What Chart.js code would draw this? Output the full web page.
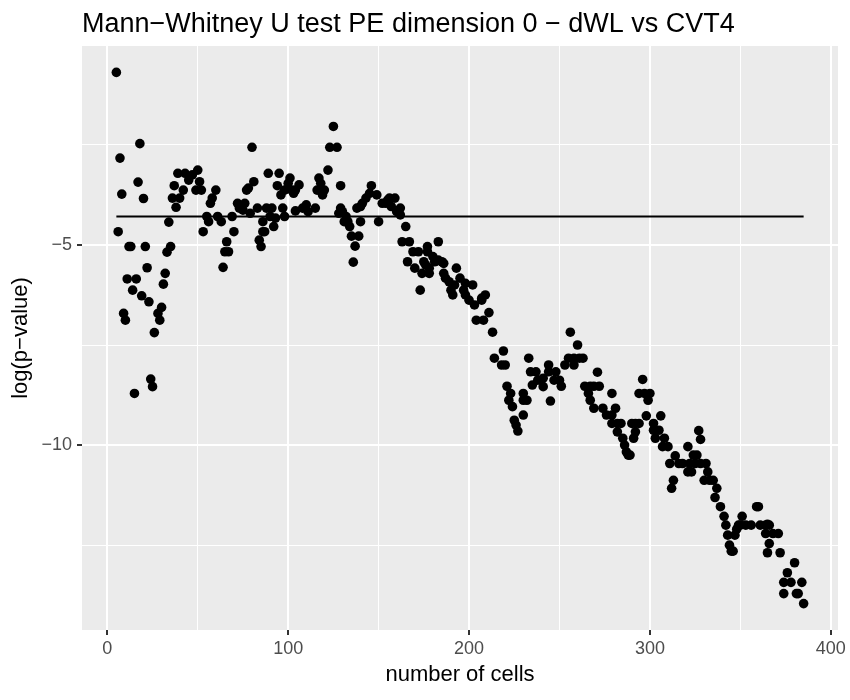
<!DOCTYPE html>
<html>
<head>
<meta charset="utf-8">
<script src="https://cdn.jsdelivr.net/npm/chart.js@4.4.1/dist/chart.umd.min.js"></script>
<style>
    body { margin: 0; background: #ffffff; }
    canvas { display: block; }
</style>
</head>
<body>
<canvas id="mwChart" width="850" height="700"></canvas>
<script>
// Título e dados
const chartTitle = 'Mann\u2212Whitney U test PE dimension 0 \u2212 dWL vs CVT4';

const cells = [
    5, 6, 7, 8, 9, 10, 11, 12, 13, 14, 15, 16, 17, 18, 19, 20, 21, 22, 23, 24, 25, 26, 28, 29, 30,
    31, 32, 33, 34, 35, 36, 37, 38, 39, 40, 42, 43, 45, 47, 49, 50, 51, 52, 53, 55, 56, 57, 58, 60,
    61, 63, 64, 65, 66, 67, 69, 70, 72, 73, 75, 76, 77, 78, 79, 80, 81, 83, 84, 85, 86, 86, 87, 88,
    89, 90, 91, 92, 93, 94, 95, 96, 97, 98, 98, 100, 101, 102, 103, 104, 104, 106, 108, 110, 111,
    115, 116, 117, 118, 119, 120, 122, 123, 125, 127, 128, 129, 129, 130, 131, 132, 133, 134, 135,
    136, 137, 138, 139, 140, 140, 141, 143, 145, 146, 149, 150, 152, 154, 155, 156, 157, 159, 160,
    162, 162, 163, 165, 166, 167, 169, 170, 172, 173, 174, 175, 176, 177, 177, 178, 178, 180, 181,
    183, 183, 185, 186, 186, 187, 189, 190, 191, 192, 193, 195, 197, 198, 198, 200, 202, 203, 204,
    207, 207, 208, 209, 211, 213, 214, 218, 219, 220, 221, 222, 223, 224, 225, 226, 227, 230, 230,
    230, 232, 233, 234, 235, 237, 238, 241, 241, 244, 244, 245, 247, 248, 250, 251, 253, 255, 256,
    258, 258, 260, 261, 263, 264, 266, 267, 267, 269, 269, 271, 272, 274, 276, 279, 279, 279, 281,
    282, 282, 284, 285, 286, 287, 288, 289, 290, 291, 292, 292, 294, 294, 296, 297, 298, 299, 300,
    302, 302, 303, 305, 306, 307, 308, 310, 311, 312, 313, 314, 316, 318, 321, 321, 322, 323, 324,
    325, 326, 327, 328, 328, 330, 331, 332, 333, 335, 336, 337, 339, 341, 342, 343, 344, 345, 346,
    347, 348, 349, 350, 351, 353, 356, 359, 360, 361, 364, 364, 365, 365, 366, 366, 368, 371, 372,
    374, 374, 376, 378, 380, 381, 382, 384, 385
];

const logP = [
    -0.69, -4.67, -2.83, -3.73, -6.71, -6.88, -5.85, -5.04, -5.04, -6.13, -8.71, -5.85, -3.43, -2.47,
    -6.27, -3.84, -5.04, -5.57, -6.42, -8.35, -8.54, -7.19, -6.71, -6.88, -6.56,
    -5.98, -5.71, -5.18, -4.43, -5.04, -3.83, -3.52, -4.06, -3.21, -3.83, -3.63, -3.21, -3.38, -3.25,
    -3.63, -3.13, -3.42, -3.63, -4.67, -4.29, -4.42, -3.96, -3.83, -3.63,
    -4.29, -4.42, -5.56, -5.17, -4.92, -5.17, -4.29, -4.67, -3.96, -4.08, -4.13, -3.96, -3.63, -3.58,
    -4.21, -2.56, -3.42, -4.08, -4.88, -5.04, -4.67, -4.42, -4.67, -4.08,
    -3.21, -4.29, -4.08, -4.54, -4.33, -3.52, -3.21, -3.75, -4.08, -3.63, -4.29, -3.46, -3.33, -3.63,
    -3.71, -4.15, -3.63, -3.50, -4.08, -4.00, -4.17,
    -4.08, -3.63, -3.33, -3.46, -3.75, -3.63, -3.13, -2.56, -2.04, -2.56, -4.21, -4.08, -3.52, -4.17,
    -4.42, -4.29, -4.42, -4.54, -4.78,
    -5.43, -5.03, -4.08, -4.78, -4.04, -4.42, -3.96, -3.83, -3.71, -3.52, -3.75, -4.42, -3.96, -3.96,
    -3.88, -3.83, -4.04, -3.83, -4.17,
    -4.08, -4.25, -4.92, -4.54, -5.42, -4.92, -5.17, -5.58, -5.17, -6.13, -5.71, -5.42, -5.50, -5.04,
    -5.17, -5.58, -5.71, -5.29, -5.42,
    -4.92, -5.38, -5.42, -5.46, -5.71, -5.83, -5.92, -6.13, -6.25, -6.00, -5.58, -5.83, -6.13, -5.96,
    -6.25, -6.38, -6.00, -6.50, -6.88,
    -6.33, -6.38, -6.88, -6.25, -6.69, -7.18, -7.83, -8.00, -7.65, -8.00, -8.53, -8.88, -8.71, -9.04,
    -9.38, -9.50, -9.65, -8.71, -8.88,
    -9.25, -8.88, -7.83, -8.17, -8.50, -8.17, -8.38, -8.33, -8.54, -8.00, -8.17, -8.90, -8.38, -8.17,
    -8.38, -8.53, -8.00, -7.83, -7.18,
    -7.83, -8.00, -7.50, -7.83, -7.83, -8.53, -8.71, -8.53, -8.88, -8.53, -9.08, -8.18, -8.53, -9.08,
    -9.25, -9.25, -8.71, -9.46, -9.08,
    -9.46, -9.67, -9.46, -9.83, -10.00, -10.17, -10.25, -10.25, -9.46, -9.83, -9.46, -9.67, -9.46,
    -8.71, -8.36, -8.71, -9.27, -8.88, -8.71,
    -9.46, -9.63, -9.83, -9.63, -9.27, -10.04, -9.83, -10.04, -10.46, -11.08, -10.88, -10.27, -10.46,
    -10.46, -10.04, -10.67, -10.46, -10.67, -10.25,
    -10.46, -10.25, -9.64, -9.86, -10.46, -10.88, -10.46, -10.67, -10.88, -10.88, -11.31, -11.08,
    -11.54, -11.78, -12.00, -12.25, -12.50, -12.65, -12.65,
    -12.25, -12.10, -12.00, -12.00, -11.78, -12.00, -12.00, -11.54, -11.54, -12.00, -12.00, -12.21,
    -11.98, -12.69, -12.00, -12.46, -12.21, -12.21, -12.69,
    -13.43, -13.71, -13.19, -13.43, -12.94, -13.71, -13.71, -13.43, -13.96
];

// Linha horizontal de referência
const refLevel = -4.29;
const refCells = [5, 385];

// Marcas dos eixos
const xTicks = [0, 50, 100, 150, 200, 250, 300, 350, 400];
const yTicks = [-12.5, -10, -7.5, -5, -2.5];

const fmt = v => String(v).replace('-', '\u2212');

Chart.defaults.font.family = '"Liberation Sans", Arial, sans-serif';

// Fundo cinza do painel e título (estilo ggplot)
const ggPanel = {
    id: 'ggPanel',
    beforeDraw(chart) {
        const { ctx, chartArea: a } = chart;
        ctx.save();
        ctx.fillStyle = '#EBEBEB';
        ctx.fillRect(a.left, a.top, a.right - a.left, a.bottom - a.top);
        ctx.fillStyle = '#000000';
        ctx.font = '27px "Liberation Sans", Arial, sans-serif';
        ctx.textBaseline = 'alphabetic';
        ctx.textAlign = 'left';
        ctx.fillText(chartTitle, a.left, 32);
        ctx.restore();
    }
};

const ctx = document.getElementById('mwChart').getContext('2d');
new Chart(ctx, {
    type: 'scatter',
    data: {
        datasets: [{
            label: 'referência',
            data: refCells.map(c => ({ x: c, y: refLevel })),
            showLine: true,
            borderColor: '#000000',
            borderWidth: 2,
            pointRadius: 0
        }, {
            label: 'log(p-value)',
            data: cells.map((c, i) => ({ x: c, y: logP[i] })),
            backgroundColor: '#000000',
            borderWidth: 0,
            pointRadius: 4.8
        }]
    },
    options: {
        responsive: false,
        animation: false,
        events: [],
        layout: {
            padding: { top: 46, right: 12, bottom: 0, left: 0 }
        },
        plugins: {
            legend: { display: false },
            tooltip: { enabled: false }
        },
        scales: {
            x: {
                type: 'linear',
                min: -14,
                max: 404,
                afterBuildTicks: s => { s.ticks = xTicks.map(v => ({ value: v })); },
                afterFit: s => { s.height = 70; s.paddingLeft = 0; s.paddingRight = 0; },
                border: { display: false },
                grid: {
                    color: '#FFFFFF',
                    lineWidth: c => (c.tick && c.tick.value % 100 === 0) ? 2 : 1,
                    tickColor: c => (c.tick && c.tick.value % 100 === 0) ? '#333333' : 'rgba(0,0,0,0)',
                    tickWidth: 2,
                    tickLength: 5
                },
                ticks: {
                    color: '#4D4D4D',
                    font: { size: 18 },
                    padding: 3,
                    maxRotation: 0,
                    autoSkip: false,
                    callback: v => v % 100 === 0 ? fmt(v) : ''
                },
                title: {
                    display: true,
                    text: 'number of cells',
                    color: '#000000',
                    font: { size: 22 },
                    padding: { top: 4, bottom: 11.5 }
                }
            },
            y: {
                type: 'linear',
                min: -14.62,
                max: -0.03,
                afterBuildTicks: s => { s.ticks = yTicks.map(v => ({ value: v })); },
                afterFit: s => { s.width = 82; },
                border: { display: false },
                grid: {
                    color: '#FFFFFF',
                    lineWidth: c => (c.tick && c.tick.value % 5 === 0) ? 2 : 1,
                    tickColor: c => (c.tick && c.tick.value % 5 === 0) ? '#333333' : 'rgba(0,0,0,0)',
                    tickWidth: 2,
                    tickLength: 5
                },
                ticks: {
                    color: '#4D4D4D',
                    font: { size: 18 },
                    padding: 5,
                    autoSkip: false,
                    callback: v => v % 5 === 0 ? fmt(v) : ''
                },
                title: {
                    display: true,
                    text: 'log(p\u2212value)',
                    color: '#000000',
                    font: { size: 22 },
                    padding: { top: 7.6, bottom: 0 }
                }
            }
        }
    },
    plugins: [ggPanel]
});
</script>
</body>
</html>
